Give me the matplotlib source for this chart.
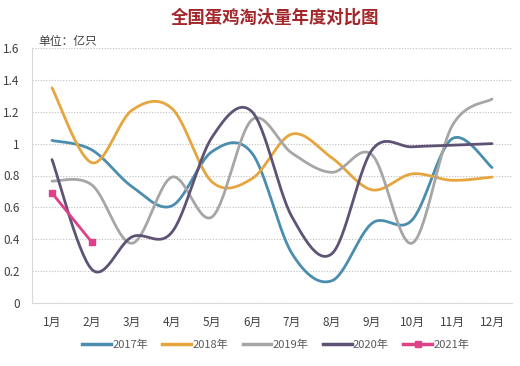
import numpy as np
import matplotlib
matplotlib.use("Agg")
import matplotlib.pyplot as plt
from matplotlib.lines import Line2D

plt.rcParams['font.family'] = ['Noto Sans CJK SC', 'DejaVu Sans']

months = ['1月', '2月', '3月', '4月', '5月', '6月', '7月', '8月', '9月', '10月', '11月', '12月']
s2017 = [1.02, 0.96, 0.73, 0.61, 0.95, 0.94, 0.31, 0.14, 0.50, 0.52, 1.03, 0.85]
s2018 = [1.35, 0.88, 1.21, 1.22, 0.76, 0.78, 1.06, 0.91, 0.71, 0.81, 0.77, 0.79]
s2019 = [0.765, 0.74, 0.375, 0.79, 0.54, 1.15, 0.94, 0.82, 0.93, 0.375, 1.11, 1.28]
s2020 = [0.90, 0.21, 0.415, 0.445, 1.04, 1.20, 0.54, 0.31, 0.96, 0.98, 0.99, 1.00]
s2021 = [0.69, 0.38]
series = [('2017年', s2017, '#4B8DAE'), ('2018年', s2018, '#E6A53D'),
          ('2019年', s2019, '#A6A6A6'), ('2020年', s2020, '#5E5375')]


def smooth(x, y, n=30):
    x = np.asarray(x, float); y = np.asarray(y, float)
    P = np.column_stack([x, y])
    out = []
    for i in range(len(P) - 1):
        p0 = P[i - 1] if i > 0 else P[i]
        p1 = P[i]; p2 = P[i + 1]
        p3 = P[i + 2] if i + 2 < len(P) else P[i + 1]
        c1 = p1 + (p2 - p0) / 6.0
        c2 = p2 - (p3 - p1) / 6.0
        t = np.linspace(0, 1, n)[:, None]
        seg = ((1 - t) ** 3) * p1 + 3 * ((1 - t) ** 2) * t * c1 + 3 * (1 - t) * t ** 2 * c2 + t ** 3 * p2
        out.append(seg if i == 0 else seg[1:])
    s = np.vstack(out)
    return s[:, 0], s[:, 1]


fig = plt.figure(figsize=(5.2, 3.66), dpi=100)
ax = fig.add_axes([32 / 520, 1 - 303 / 366, 480 / 520, 255 / 366])
xs = np.arange(1, 13)
for name, vals, col in series:
    sx, sy = smooth(xs, vals)
    ax.plot(sx, sy, color=col, lw=2.0, solid_capstyle='round')
ax.plot(np.arange(1, len(s2021) + 1), s2021, color='#E0408A', lw=2.0,
        marker='s', markersize=5)

ax.set_xlim(0.5, 12.5)
ax.set_ylim(0, 1.6)
ax.set_yticks(np.arange(0, 1.61, 0.2))
ax.set_yticklabels(['0', '0.2', '0.4', '0.6', '0.8', '1', '1.2', '1.4', '1.6'])
ax.set_xticks(xs)
ax.set_xticklabels(months)
ax.tick_params(axis='both', length=0, labelsize=8.5, colors='#404040')
ax.tick_params(axis='y', pad=9)
ax.tick_params(axis='x', pad=9)
ax.grid(axis='y', color='#BFBFBF', linestyle=(0, (1, 1.5)), lw=0.8)
ax.set_axisbelow(True)
for sp in ['top', 'right']:
    ax.spines[sp].set_visible(False)
ax.spines['left'].set_color('#D9D9D9')
ax.spines['bottom'].set_color('#D9D9D9')

fig.text(0.528, 1 - 18 / 366, '全国蛋鸡淘汰量年度对比图', ha='center', va='center',
         fontsize=12.5, fontweight='bold', color='#A3262A')
fig.text(38 / 520, 1 - 42 / 366, '单位：亿只', ha='left', va='center', fontsize=8.5, color='#404040')

handles = [Line2D([], [], color=c, lw=2.5) for _, _, c in series]
handles.append(Line2D([], [], color='#E0408A', lw=2.5, marker='s', markersize=5))
labels = [n for n, _, _ in series] + ['2021年']
fig.legend(handles, labels, loc='center', bbox_to_anchor=(0.53, 1 - 345 / 366), ncol=5,
           frameon=False, fontsize=8, handlelength=2.6, handletextpad=0.1, columnspacing=1.3,
           labelcolor='#595959')

fig.savefig('out.png', dpi=100)
